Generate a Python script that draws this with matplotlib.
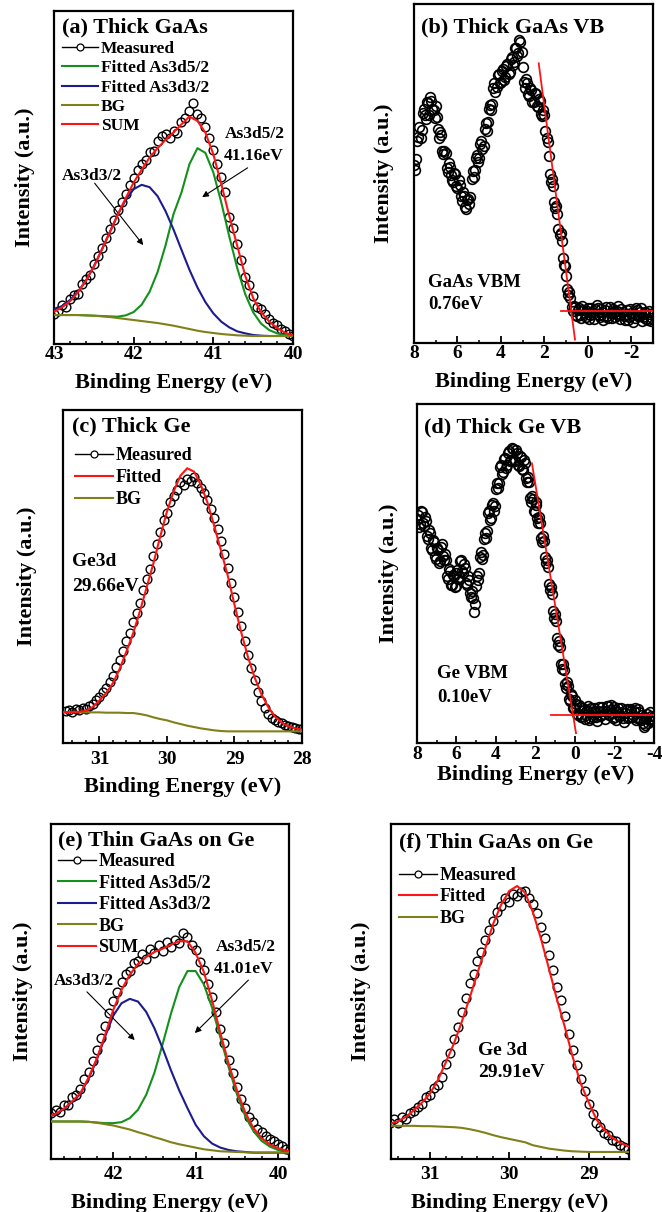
import numpy as np
import matplotlib.pyplot as plt
from matplotlib.lines import Line2D
from matplotlib.ticker import MultipleLocator

plt.rcParams['font.family'] = ['Liberation Serif', 'DejaVu Serif']
plt.rcParams['font.weight'] = 'bold'
plt.rcParams['axes.labelweight'] = 'bold'
plt.rcParams['axes.unicode_minus'] = False

GREEN = '#14901c'
NAVY = '#1c1c8e'
OLIVE = '#808018'
RED = '#ff1414'


def grid(start, stop, step):
    n = int(round(abs(stop - start) / step)) + 1
    return np.linspace(start, stop, n)


# (a) thick GaAs, As 3d core level
a_fit_E = grid(43.0, 40.0, 0.1)
a_bg = [8.7, 8.7, 8.7, 8.7, 8.6, 8.5, 8.3, 8.1, 7.8, 7.5, 7.2, 6.9, 6.6, 6.3, 5.9, 5.5,
        5.0, 4.5, 4.0, 3.6, 3.3, 3.0, 2.8, 2.6, 2.5, 2.4, 2.4, 2.4, 2.4, 2.4, 2.4]
a_d52 = [8.7, 8.7, 8.7, 8.7, 8.6, 8.5, 8.4, 8.3, 8.2, 8.6, 9.6, 11.8, 15.7, 21.6, 29.6, 39.0,
         45.5, 54.0, 58.8, 57.4, 51.5, 42.5, 32.3, 22.8, 15.0, 9.5, 6.1, 4.2, 3.2, 2.7, 2.5]
a_d32 = [10.3, 11.4, 13.2, 15.7, 19.0, 23.3, 28.3, 33.6, 38.8, 43.3, 46.5, 47.8, 47.1, 44.4,
         39.9, 34.4, 28.3, 22.3, 17.0, 12.6, 9.2, 6.7, 5.0, 3.8, 3.2, 2.7, 2.5, 2.4, 2.4, 2.4, 2.4]
a_sum = [9.7, 11.0, 12.8, 15.5, 19.0, 23.2, 28.3, 33.5, 38.8, 43.8, 48.5, 52.3, 56.0, 58.8,
         61.3, 63.5, 66.0, 68.3, 67.0, 63.5, 57.0, 48.0, 38.5, 29.5, 20.5, 13.8, 9.5, 6.8, 4.8, 3.4, 2.6]
a_meas_E = grid(43.0, 40.0, 0.05)
a_meas = [9.0, 9.8, 11.6, 11.2, 13.6, 14.6, 15.0, 17.9, 19.6, 20.7,
          23.9, 26.4, 28.9, 31.8, 34.4, 37.2, 40.3, 42.5, 45.0, 47.6,
          49.8, 52.3, 54.1, 55.2, 57.6, 58.0, 61.0, 62.4, 63.2, 61.8,
          64.0, 63.5, 66.8, 67.9, 70.0, 72.5, 69.2, 68.0, 65.1, 62.0,
          58.4, 54.1, 50.3, 45.6, 38.0, 34.8, 29.9, 25.2, 20.1, 17.8,
          14.5, 11.0, 10.4, 8.9, 7.4, 6.4, 5.6, 4.5, 4.0, 3.0, 2.4]

# (b) thick GaAs valence band, two interleaved scans
b_E = grid(8.0, -3.0, 0.1)
b_meas = [52.5, 54.2, 60.9, 60.4, 67.7, 67.4, 71.2, 67.4, 71.4, 68.8,
          69.8, 63.1, 62.3, 56.6, 56.7, 51.5, 53.0, 49.7, 47.6, 49.9,
          45.8, 46.7, 41.8, 43.4, 39.5, 42.6, 43.2, 50.8, 50.9, 55.4,
          54.6, 59.5, 58.2, 64.9, 65.1, 70.3, 70.4, 76.7, 75.6, 79.4,
          77.1, 80.8, 78.6, 82.2, 80.0, 84.4, 82.8, 87.1, 85.6, 88.9,
          81.5, 75.3, 76.8, 72.9, 74.6, 71.2, 73.5, 69.6, 71.4, 67.0,
          67.2, 60.6, 55.3, 47.4, 46.2, 39.7, 38.1, 31.8, 30.2, 22.9,
          19.8, 14.3, 13.4, 9.4, 10.6, 8.1, 10.2, 7.5, 9.8, 7.8,
          10.4, 8.2, 9.1, 7.0, 11.3, 8.4, 10.1, 6.9, 9.6, 8.0,
          10.5, 7.4, 9.3, 8.6, 10.8, 7.2, 9.0, 6.8, 9.7, 7.6,
          8.9, 6.3, 10.3, 7.9, 9.2, 6.5, 8.6, 7.1, 9.4, 6.4, 8.8]
b_E2 = grid(7.95, -2.95, 0.1)
b_meas2 = [51.0, 59.6, 63.8, 62.7, 69.1, 66.2, 70.8, 72.6, 68.9, 66.4,
           66.7, 60.4, 61.5, 55.8, 55.9, 50.3, 51.8, 48.0, 50.1, 46.3,
           48.1, 43.4, 44.6, 40.2, 42.3, 40.9, 48.5, 49.0, 54.6, 53.3,
           58.7, 57.2, 63.0, 62.6, 69.1, 68.7, 75.2, 74.1, 79.0, 76.6,
           80.3, 77.5, 81.6, 79.3, 83.8, 82.0, 86.9, 84.8, 89.3, 85.7,
           77.0, 77.9, 73.4, 75.3, 71.1, 73.7, 70.0, 72.0, 67.6, 68.8,
           62.5, 59.4, 50.0, 48.5, 41.6, 40.3, 33.7, 32.4, 25.1, 22.8,
           16.0, 15.1, 10.6, 11.0, 8.4, 9.6, 8.3, 10.9, 8.8, 9.5,
           7.1, 10.2, 8.5, 9.9, 10.3, 7.6, 9.2, 8.1, 10.6, 7.3,
           8.8, 9.9, 7.7, 9.4, 8.2, 10.0, 7.9, 8.5, 6.7, 10.1,
           8.3, 7.4, 9.6, 8.0, 10.4, 7.8, 9.1, 6.9, 8.7, 7.5]
b_vbm = 0.76
b_base = 9.3
b_edge_top = (2.26, 82.5)
b_edge_bottom = 1.0
b_base_span = (1.22, -3.1)

# (c) thick Ge, Ge 3d core level
c_fit_E = grid(31.6, 28.0, 0.1)
c_bg = [9.2, 9.2, 9.2, 9.2, 9.2, 9.2, 9.2, 9.1, 9.1, 9.1, 9.0, 9.0, 8.7, 8.3, 7.7, 7.2, 6.8,
        6.2, 5.7, 5.2, 4.8, 4.4, 4.1, 3.8, 3.6, 3.5, 3.5, 3.5, 3.5, 3.5, 3.5, 3.5, 3.5, 3.5,
        3.5, 3.5, 3.5]
c_fit = [9.3, 9.3, 9.3, 9.4, 9.6, 10.8, 12.8, 15.0, 18.0, 22.3, 27.5, 33.0, 39.6, 46.8, 54.0,
         62.0, 69.5, 75.6, 80.3, 82.5, 81.5, 77.6, 72.2, 65.2, 57.8, 50.3, 41.5, 33.2, 25.8,
         19.6, 14.6, 10.8, 7.9, 6.1, 5.0, 4.4, 4.0]
c_meas_E = grid(31.5, 28.0, 0.05)
c_meas = [9.6, 9.9, 9.3, 10.2, 9.8, 10.6, 10.1, 11.2, 11.6, 12.9,
          13.8, 15.4, 16.6, 18.2, 20.1, 22.9, 24.8, 27.6, 30.5, 33.1,
          36.2, 38.9, 42.0, 45.8, 49.2, 52.4, 56.3, 59.8, 63.4, 66.9,
          69.1, 72.4, 74.2, 76.0, 78.3, 77.5, 79.2, 78.6, 79.8, 78.1,
          76.7, 75.2, 72.9, 70.4, 67.6, 64.3, 60.8, 56.9, 52.7, 48.1,
          43.9, 39.2, 35.0, 30.6, 26.3, 22.4, 18.9, 15.3, 12.6, 10.4,
          8.7, 7.6, 6.8, 6.2, 5.9, 5.4, 5.2, 4.8, 4.6, 4.3, 4.1]

# (d) thick Ge valence band, two interleaved scans
d_E = grid(8.0, -4.0, 0.1)
d_meas = [66.1, 63.8, 68.4, 64.9, 66.7, 61.2, 62.9, 57.6, 59.8, 55.3,
          57.4, 53.1, 57.9, 55.2, 55.8, 49.3, 51.4, 46.6, 49.7, 45.9,
          50.2, 48.3, 53.6, 50.7, 52.9, 47.1, 49.3, 44.2, 44.8, 38.5,
          46.4, 48.2, 54.9, 54.3, 60.1, 60.4, 67.8, 65.7, 70.2, 68.3,
          74.9, 75.2, 81.3, 79.4, 83.7, 81.2, 85.6, 83.2, 87.1, 83.4,
          86.3, 81.9, 84.6, 80.8, 83.5, 78.3, 78.6, 72.2, 72.8, 68.4,
          71.1, 66.3, 66.7, 60.4, 61.1, 54.8, 54.1, 46.9, 46.0, 38.8,
          38.2, 30.9, 30.1, 23.4, 23.2, 17.4, 18.0, 12.9, 14.6, 10.4,
          12.7, 8.5, 11.1, 7.6, 10.2, 7.1, 9.8, 6.9, 10.4, 7.8,
          9.3, 6.6, 10.7, 8.2, 9.5, 7.0, 10.9, 8.4, 11.2, 7.3,
          9.8, 6.8, 10.3, 8.1, 9.0, 6.2, 9.7, 7.5, 10.1, 7.7,
          9.4, 6.9, 10.0, 7.2, 8.3, 4.6, 7.4, 5.8, 9.1, 6.5, 8.0]
d_E2 = grid(7.95, -3.95, 0.1)
d_meas2 = [67.3, 64.5, 68.0, 63.9, 65.6, 60.1, 61.9, 56.9, 59.3, 54.4,
           56.8, 53.7, 58.6, 54.0, 53.9, 48.5, 50.6, 46.7, 49.2, 46.4,
           50.9, 49.1, 54.0, 50.2, 51.7, 46.6, 48.2, 43.0, 42.8, 40.9,
           49.2, 50.1, 56.3, 55.6, 61.8, 62.4, 68.3, 66.5, 70.8, 70.0,
           76.7, 76.6, 81.9, 80.0, 84.1, 81.9, 86.2, 83.6, 86.8, 83.1,
           85.6, 81.6, 84.3, 80.6, 82.5, 77.0, 76.9, 71.0, 72.0, 68.2,
           70.1, 65.0, 65.0, 59.2, 59.5, 53.0, 52.0, 45.0, 44.0, 37.0,
           36.0, 29.0, 28.2, 21.8, 21.6, 16.3, 16.8, 12.4, 13.8, 10.2,
           11.6, 8.4, 10.5, 7.9, 9.6, 8.3, 10.8, 7.5, 9.0, 10.2,
           7.8, 9.4, 8.0, 10.6, 8.7, 9.3, 11.0, 9.6, 8.8, 10.7,
           7.6, 9.2, 8.1, 10.4, 7.3, 8.9, 10.0, 7.7, 9.5, 8.2,
           10.3, 7.4, 9.0, 6.8, 6.0, 5.4, 8.6, 6.9, 8.0, 7.1]
d_vbm = 0.10
d_base = 8.3
d_edge_top = (2.18, 82.5)
d_edge_bottom = 2.9
d_base_span = (1.22, -4.1)

# (e) thin GaAs on Ge, As 3d core level
e_fit_E = grid(42.8, 39.8, 0.1)
e_bg = [11.2, 11.2, 11.2, 11.2, 11.2, 11.1, 10.8, 10.4, 10.0, 9.4, 8.8, 8.0, 7.3, 6.5, 5.8,
        5.0, 4.4, 3.9, 3.4, 2.9, 2.6, 2.3, 2.2, 2.1, 2.0, 1.9, 1.9, 1.9, 1.9, 1.9, 1.9]
e_d52 = [11.2, 11.2, 11.2, 11.2, 11.2, 11.1, 10.9, 10.7, 10.7, 11.0, 12.2, 14.7, 19.2, 25.8,
         34.4, 43.4, 51.3, 56.1, 56.1, 52.1, 45.1, 36.3, 27.4, 19.4, 12.9, 8.4, 5.4, 3.7,
         2.7, 2.3, 2.1]
e_d32 = [12.4, 13.4, 14.9, 17.0, 19.4, 24.0, 29.6, 36.5, 42.8, 46.5, 47.8, 47.0, 43.9, 39.0,
         33.0, 26.5, 20.5, 15.2, 10.2, 6.8, 4.6, 3.4, 2.7, 2.3, 2.1, 1.9, 1.9, 1.9, 1.9, 1.9, 1.9]
e_sum = [12.5, 13.5, 15.0, 17.2, 19.6, 24.3, 30.0, 37.0, 44.5, 50.5, 55.0, 58.2, 60.3, 61.8,
         62.8, 64.0, 65.0, 65.0, 61.5, 55.8, 47.3, 37.6, 28.5, 20.6, 14.0, 9.3, 6.2, 4.3,
         3.2, 2.5, 2.2]
e_meas_E = grid(42.75, 39.85, 0.05)
e_meas = [13.6, 14.5, 14.0, 16.1, 16.0, 18.4, 19.2, 21.0, 23.8, 26.1,
          29.4, 32.6, 36.0, 39.8, 43.6, 47.2, 49.9, 52.7, 55.3, 56.0,
          58.4, 59.1, 61.2, 59.8, 62.6, 61.4, 63.9, 62.1, 64.8, 63.2,
          65.5, 64.6, 67.4, 66.2, 64.0, 62.3, 58.8, 56.4, 52.1, 48.5,
          43.8, 38.9, 34.5, 29.6, 25.7, 21.4, 18.0, 15.2, 12.6, 10.9,
          9.1, 8.2, 7.0, 6.1, 5.3, 4.6, 3.8, 3.1, 2.6]

# (f) thin GaAs on Ge, Ge 3d core level
f_fit_E = grid(31.5, 28.5, 0.1)
f_bg = [9.9, 9.9, 9.9, 9.9, 9.8, 9.8, 9.7, 9.6, 9.5, 9.3, 8.9, 8.4, 7.8, 7.1, 6.5, 6.0,
        5.5, 5.0, 4.1, 3.6, 3.1, 2.8, 2.5, 2.3, 2.2, 2.1, 2.1, 2.1, 2.1, 2.1, 2.1]
f_fit = [10.5, 11.3, 12.6, 14.6, 16.8, 19.5, 23.5, 28.8, 34.3, 40.8, 48.0, 55.5, 63.0, 70.3,
         76.0, 80.0, 81.5, 79.5, 73.6, 65.8, 56.9, 47.8, 39.5, 30.5, 22.6, 17.0, 11.8, 8.7,
         6.3, 4.8, 3.8]
f_meas_E = grid(31.5, 28.5, 0.05)
f_meas = [10.8, 11.9, 10.6, 12.4, 11.8, 13.7, 14.2, 15.6, 16.3, 18.6,
          19.2, 21.1, 22.0, 24.6, 28.3, 31.6, 35.8, 39.4, 44.0, 48.2,
          52.6, 55.1, 59.2, 61.8, 65.4, 68.5, 70.9, 73.8, 75.6, 77.9,
          76.8, 79.2, 78.4, 79.6, 80.1, 77.8, 76.2, 73.5, 69.4, 66.1,
          61.0, 56.3, 51.2, 47.6, 42.7, 37.4, 32.5, 28.1, 23.9, 20.2,
          16.4, 13.5, 10.8, 9.7, 7.9, 7.1, 5.8, 5.4, 4.2, 3.6, 2.9]

W, H = 662, 1212
fig = plt.figure(figsize=(W / 100, H / 100), dpi=100)


def panel(left, top, right, bottom):
    return fig.add_axes([left / W, 1 - bottom / H, (right - left) / W, (bottom - top) / H])


def style(ax, xlim, major, minor, pad, ylab_px, xlab_px):
    ax.set_xlim(*xlim)
    ax.set_ylim(0, 100)
    ax.xaxis.set_major_locator(MultipleLocator(major))
    ax.xaxis.set_minor_locator(MultipleLocator(minor))
    ax.tick_params(axis='x', which='both', direction='in', top=False, labelsize=14, pad=pad)
    ax.tick_params(axis='x', which='major', length=5, width=1.3)
    ax.tick_params(axis='x', which='minor', length=2.5, width=1.1)
    ax.set_yticks([])
    for sp in ax.spines.values():
        sp.set_linewidth(1.6)
    bb = ax.get_position()
    w_px, h_px = bb.width * W, bb.height * H
    ax.set_ylabel('Intensity (a.u.)', fontsize=16)
    ax.yaxis.set_label_coords(-ylab_px / w_px, 0.5)
    ax.set_xlabel('Binding Energy (eV)', fontsize=16)
    ax.xaxis.set_label_coords(0.5, -xlab_px / h_px)


def measured(ax, x, y, ms=6.3, mew=1.0):
    ax.plot(x, y, ls='none', marker='o', ms=ms, mfc='none', mec='black', mew=mew, zorder=2)


def meas_handle():
    return Line2D([], [], color='black', lw=1.0, marker='o', ms=5, mfc='white',
                  mec='black', mew=0.9)


def legend(ax, handles, labels, anchor, fs, spacing):
    ax.legend(handles, labels, loc='upper left', bbox_to_anchor=anchor, frameon=False,
              prop=dict(size=fs, weight='bold'), handlelength=2.1, handletextpad=0.15,
              labelspacing=spacing, borderpad=0, borderaxespad=0)


def title(ax, text, x, y):
    ax.text(x, y, text, transform=ax.transAxes, fontsize=16, ha='left', va='center')


def arrow(ax, start, end):
    ax.annotate('', xy=end, xytext=start,
                arrowprops=dict(arrowstyle='-|>', color='black', lw=0.8,
                                mutation_scale=9, shrinkA=0, shrinkB=0))


def vb_edge(ax, vbm, base, top, bottom, span):
    slope = (top[0] - vbm) / (top[1] - base)
    ax.plot([top[0], vbm + (bottom - base) * slope], [top[1], bottom],
            color=RED, lw=1.3, zorder=4)
    ax.plot(span, [base, base], color=RED, lw=1.3, zorder=4)


LW = 1.5

# (a)
ax = panel(54, 11, 293, 344)
measured(ax, a_meas_E, a_meas)
l52, = ax.plot(a_fit_E, a_d52, color=GREEN, lw=LW, zorder=3)
l32, = ax.plot(a_fit_E, a_d32, color=NAVY, lw=LW, zorder=3)
lbg, = ax.plot(a_fit_E, a_bg, color=OLIVE, lw=LW, zorder=3)
lsum, = ax.plot(a_fit_E, a_sum, color=RED, lw=LW, zorder=4)
style(ax, (43, 40), 1, 0.2, 1.5, 19, 29)
title(ax, '(a) Thick GaAs', 0.033, 0.949)
legend(ax, [meas_handle(), l52, l32, lbg, lsum],
       ['Measured', 'Fitted As3d5/2', 'Fitted As3d3/2', 'BG', 'SUM'],
       (0.033, 0.91), 12.5, 0.18)
ax.text(40.48, 63.1, 'As3d5/2', fontsize=12.5, ha='center', va='center')
ax.text(40.49, 56.5, '41.16eV', fontsize=12.5, ha='center', va='center')
ax.text(42.52, 50.5, 'As3d3/2', fontsize=12.5, ha='center', va='center')
arrow(ax, (40.57, 52.9), (41.14, 44.1))
arrow(ax, (42.49, 48.3), (41.88, 29.7))

# (b)
ax = panel(414, 4, 653, 343)
measured(ax, b_E, b_meas, ms=7, mew=1.2)
measured(ax, b_E2, b_meas2, ms=7, mew=1.2)
vb_edge(ax, b_vbm, b_base, b_edge_top, b_edge_bottom, b_base_span)
style(ax, (8, -3), 2, 1, 1.5, 20, 29)
title(ax, '(b) Thick GaAs VB', 0.03, 0.932)
ax.text(0.059, 0.177, 'GaAs VBM', transform=ax.transAxes, fontsize=13.5, va='center')
ax.text(0.059, 0.115, f'{b_vbm:.2f}eV', transform=ax.transAxes, fontsize=13.5, va='center')

# (c)
ax = panel(63, 410, 302, 743)
measured(ax, c_meas_E, c_meas)
lfit, = ax.plot(c_fit_E, c_fit, color=RED, lw=LW, zorder=4)
lbg, = ax.plot(c_fit_E, c_bg, color=OLIVE, lw=LW, zorder=3)
style(ax, (31.54, 28.0), 1, 0.2, 5.5, 26, 34)
title(ax, '(c) Thick Ge', 0.038, 0.949)
legend(ax, [meas_handle(), lfit, lbg], ['Measured', 'Fitted', 'BG'], (0.05, 0.889), 13, 0.28)
ax.text(0.038, 0.544, 'Ge3d', transform=ax.transAxes, fontsize=14, va='center')
ax.text(0.038, 0.471, '29.66eV', transform=ax.transAxes, fontsize=14, va='center')

# (d)
ax = panel(417, 404, 654, 743)
measured(ax, d_E, d_meas, ms=7, mew=1.2)
measured(ax, d_E2, d_meas2, ms=7, mew=1.2)
vb_edge(ax, d_vbm, d_base, d_edge_top, d_edge_bottom, d_base_span)
style(ax, (8, -4), 2, 1, 2.0, 18, 22)
title(ax, '(d) Thick Ge VB', 0.03, 0.932)
ax.text(0.084, 0.204, 'Ge VBM', transform=ax.transAxes, fontsize=13.5, va='center')
ax.text(0.084, 0.133, f'{d_vbm:.2f}eV', transform=ax.transAxes, fontsize=13.5, va='center')

# (e)
ax = panel(51, 824, 289, 1159)
measured(ax, e_meas_E, e_meas)
l52, = ax.plot(e_fit_E, e_d52, color=GREEN, lw=LW, zorder=3)
l32, = ax.plot(e_fit_E, e_d32, color=NAVY, lw=LW, zorder=3)
lbg, = ax.plot(e_fit_E, e_bg, color=OLIVE, lw=LW, zorder=3)
lsum, = ax.plot(e_fit_E, e_sum, color=RED, lw=LW, zorder=4)
style(ax, (42.756, 39.867), 1, 0.2, 5.0, 18, 34)
title(ax, '(e) Thin GaAs on Ge', 0.029, 0.952)
legend(ax, [meas_handle(), l52, l32, lbg, lsum],
       ['Measured', 'Fitted As3d5/2', 'Fitted As3d3/2', 'BG', 'SUM'],
       (0.029, 0.913), 13, 0.25)
ax.text(40.39, 63.3, 'As3d5/2', fontsize=12.5, ha='center', va='center')
ax.text(40.42, 56.7, '41.01eV', fontsize=12.5, ha='center', va='center')
ax.text(42.36, 53.1, 'As3d3/2', fontsize=12.5, ha='center', va='center')
arrow(ax, (40.36, 53.4), (41.01, 37.6))
arrow(ax, (42.32, 49.9), (41.74, 35.5))

# (f)
ax = panel(391, 824, 629, 1159)
measured(ax, f_meas_E, f_meas)
lfit, = ax.plot(f_fit_E, f_fit, color=RED, lw=LW, zorder=4)
lbg, = ax.plot(f_fit_E, f_bg, color=OLIVE, lw=LW, zorder=3)
style(ax, (31.49, 28.49), 1, 0.2, 5.0, 20, 34)
title(ax, '(f) Thin GaAs on Ge', 0.034, 0.946)
legend(ax, [meas_handle(), lfit, lbg], ['Measured', 'Fitted', 'BG'], (0.034, 0.872), 13, 0.25)
ax.text(0.366, 0.325, 'Ge 3d', transform=ax.transAxes, fontsize=14, va='center')
ax.text(0.366, 0.257, '29.91eV', transform=ax.transAxes, fontsize=14, va='center')

fig.savefig('out.png', dpi=100)
